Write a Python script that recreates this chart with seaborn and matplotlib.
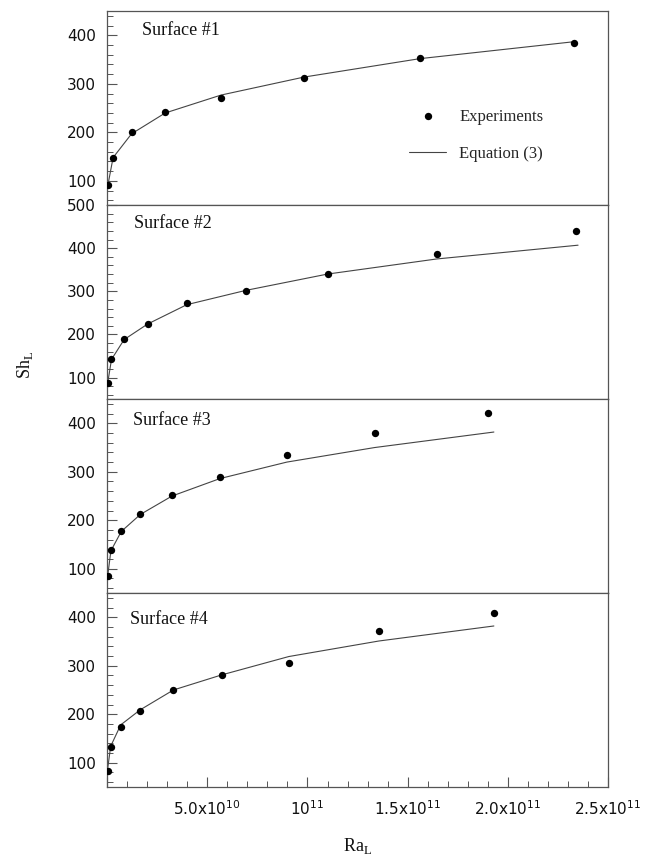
import matplotlib
matplotlib.use("Agg")
import matplotlib.pyplot as plt
from matplotlib.ticker import MultipleLocator, FixedLocator, FixedFormatter
import pandas as pd
import seaborn as sns

# Surface #1
ra_exp_1 = [0.04e10, 0.30e10, 1.22e10, 2.90e10, 5.69e10, 9.82e10, 15.6e10, 23.3e10]
sh_exp_1 = [91, 148, 201, 241, 270, 313, 353, 385]
ra_eq_1 = [0.04e10, 0.30e10, 1.22e10, 2.90e10, 5.69e10, 9.82e10, 15.6e10, 23.3e10]
sh_eq_1 = [91, 148, 197, 240, 277, 314, 352, 387]

# Surface #2
ra_exp_2 = [0.03e10, 0.22e10, 0.85e10, 2.02e10, 3.98e10, 6.91e10, 11.0e10, 16.44e10, 23.4e10]
sh_exp_2 = [87, 142, 189, 225, 274, 300, 340, 387, 441]
ra_eq_2 = [0.03e10, 0.22e10, 0.85e10, 2.02e10, 3.98e10, 6.91e10, 11.0e10, 16.44e10, 23.5e10]
sh_eq_2 = [87, 142, 188, 224, 269, 302, 340, 375, 407]

# Surface #3
ra_exp_3 = [0.03e10, 0.19e10, 0.71e10, 1.66e10, 3.24e10, 5.63e10, 8.97e10, 13.35e10, 19.0e10]
sh_exp_3 = [85, 138, 178, 213, 253, 289, 335, 380, 422]
ra_eq_3 = [0.03e10, 0.19e10, 0.71e10, 1.66e10, 3.24e10, 5.63e10, 8.97e10, 13.35e10, 19.3e10]
sh_eq_3 = [85, 137, 177, 212, 250, 286, 320, 350, 382]

# Surface #4
ra_exp_4 = [0.03e10, 0.18e10, 0.68e10, 1.65e10, 3.31e10, 5.71e10, 9.07e10, 13.56e10, 19.3e10]
sh_exp_4 = [83, 132, 174, 206, 249, 280, 306, 372, 409]
ra_eq_4 = [0.03e10, 0.18e10, 0.68e10, 1.65e10, 3.31e10, 5.71e10, 9.07e10, 13.56e10, 19.3e10]
sh_eq_4 = [88, 134, 178, 209, 250, 281, 319, 351, 382]

surface_names = ["Surface #1", "Surface #2", "Surface #3", "Surface #4"]
y_limits = [(50, 450), (50, 500), (50, 450), (50, 450)]
y_majors = [[100, 200, 300, 400], [100, 200, 300, 400, 500],
            [100, 200, 300, 400], [100, 200, 300, 400]]
x_ticks = [0, 5e10, 1e11, 1.5e11, 2e11, 2.5e11]
x_tick_labels = ["", r"5.0x10$^{10}$", r"10$^{11}$", r"1.5x10$^{11}$",
                 r"2.0x10$^{11}$", r"2.5x10$^{11}$"]
legend_labels = ["Experiments", "Equation (3)"]

experiments = [(ra_exp_1, sh_exp_1), (ra_exp_2, sh_exp_2),
               (ra_exp_3, sh_exp_3), (ra_exp_4, sh_exp_4)]
equations = [(ra_eq_1, sh_eq_1), (ra_eq_2, sh_eq_2),
             (ra_eq_3, sh_eq_3), (ra_eq_4, sh_eq_4)]

sns.set_theme(style="ticks")
plt.rcParams["font.family"] = ["DejaVu Sans"]
plt.rcParams["mathtext.fontset"] = "dejavusans"

SERIF = "Liberation Serif"
EDGE = "#555555"

fig, axes = plt.subplots(4, 1, figsize=(6.61, 8.58), dpi=100, sharex=True)
fig.subplots_adjust(left=0.162, right=0.92, top=0.987, bottom=0.0828, hspace=0)

text_pos = [(0.07, 0.90), (0.053, 0.905), (0.051, 0.887), (0.045, 0.862)]

for i, ax in enumerate(axes):
    ra_e, sh_e = experiments[i]
    ra_q, sh_q = equations[i]
    df_e = pd.DataFrame({"Ra": ra_e, "Sh": sh_e})
    df_q = pd.DataFrame({"Ra": ra_q, "Sh": sh_q})
    sns.lineplot(data=df_q, x="Ra", y="Sh", ax=ax, sort=False, estimator=None,
                 color="#444444", linewidth=0.8, label=legend_labels[1], legend=False)
    sns.scatterplot(data=df_e, x="Ra", y="Sh", ax=ax, color="black", s=28,
                    linewidth=0, label=legend_labels[0], legend=False, zorder=3)

    ax.set_xlim(0, 2.5e11)
    ax.set_ylim(*y_limits[i])
    ax.yaxis.set_major_locator(FixedLocator(y_majors[i]))
    ax.yaxis.set_minor_locator(MultipleLocator(20))
    ax.set_xlabel("")
    ax.set_ylabel("")

    for sp in ax.spines.values():
        sp.set_visible(True)
        sp.set_color(EDGE)
        sp.set_linewidth(0.9)

    ax.tick_params(axis="y", which="major", direction="in", length=7, width=0.8,
                   color=EDGE, left=True, right=False, labelsize=11, pad=8,
                   labelcolor="#111111")
    ax.tick_params(axis="y", which="minor", direction="in", length=4, width=0.7,
                   color=EDGE, left=True, right=False)
    ax.tick_params(axis="x", which="both", bottom=False, top=False, labelbottom=False)

    ax.text(text_pos[i][0], text_pos[i][1], surface_names[i], transform=ax.transAxes,
            ha="left", va="center", fontsize=13, family=SERIF, color="#111111")

# Shared Rayleigh-number axis on the bottom panel
ax4 = axes[-1]
ax4.xaxis.set_major_locator(FixedLocator(x_ticks))
ax4.xaxis.set_major_formatter(FixedFormatter(x_tick_labels))
ax4.xaxis.set_minor_locator(MultipleLocator(1e10))
ax4.tick_params(axis="x", which="major", direction="in", length=7, width=0.8,
                color=EDGE, bottom=True, labelbottom=True, labelsize=11, pad=9,
                labelcolor="#111111")
ax4.tick_params(axis="x", which="minor", direction="in", length=4, width=0.7,
                color=EDGE, bottom=True)
ax4.set_xlabel(r"Ra$_\mathregular{L}$", fontsize=13, family=SERIF, color="#111111")
ax4.xaxis.set_label_coords(0.5, -0.255)

fig.text(25 / 661, 1 - 365 / 858, r"Sh$_\mathregular{L}$", rotation=90,
         ha="center", va="center", fontsize=13, family=SERIF, color="#111111")

# Legend in the top panel
ax1 = axes[0]
handles, labels = ax1.get_legend_handles_labels()
order = [labels.index(legend_labels[0]), labels.index(legend_labels[1])]
leg = ax1.legend([handles[k] for k in order], [labels[k] for k in order],
                 loc="center left", bbox_to_anchor=(0.603, 0.36), frameon=False,
                 borderaxespad=0, borderpad=0, handlelength=2.2, handletextpad=0.8,
                 labelspacing=1.25, prop={"family": SERIF, "size": 12})

fig.savefig("out.png", dpi=100)
